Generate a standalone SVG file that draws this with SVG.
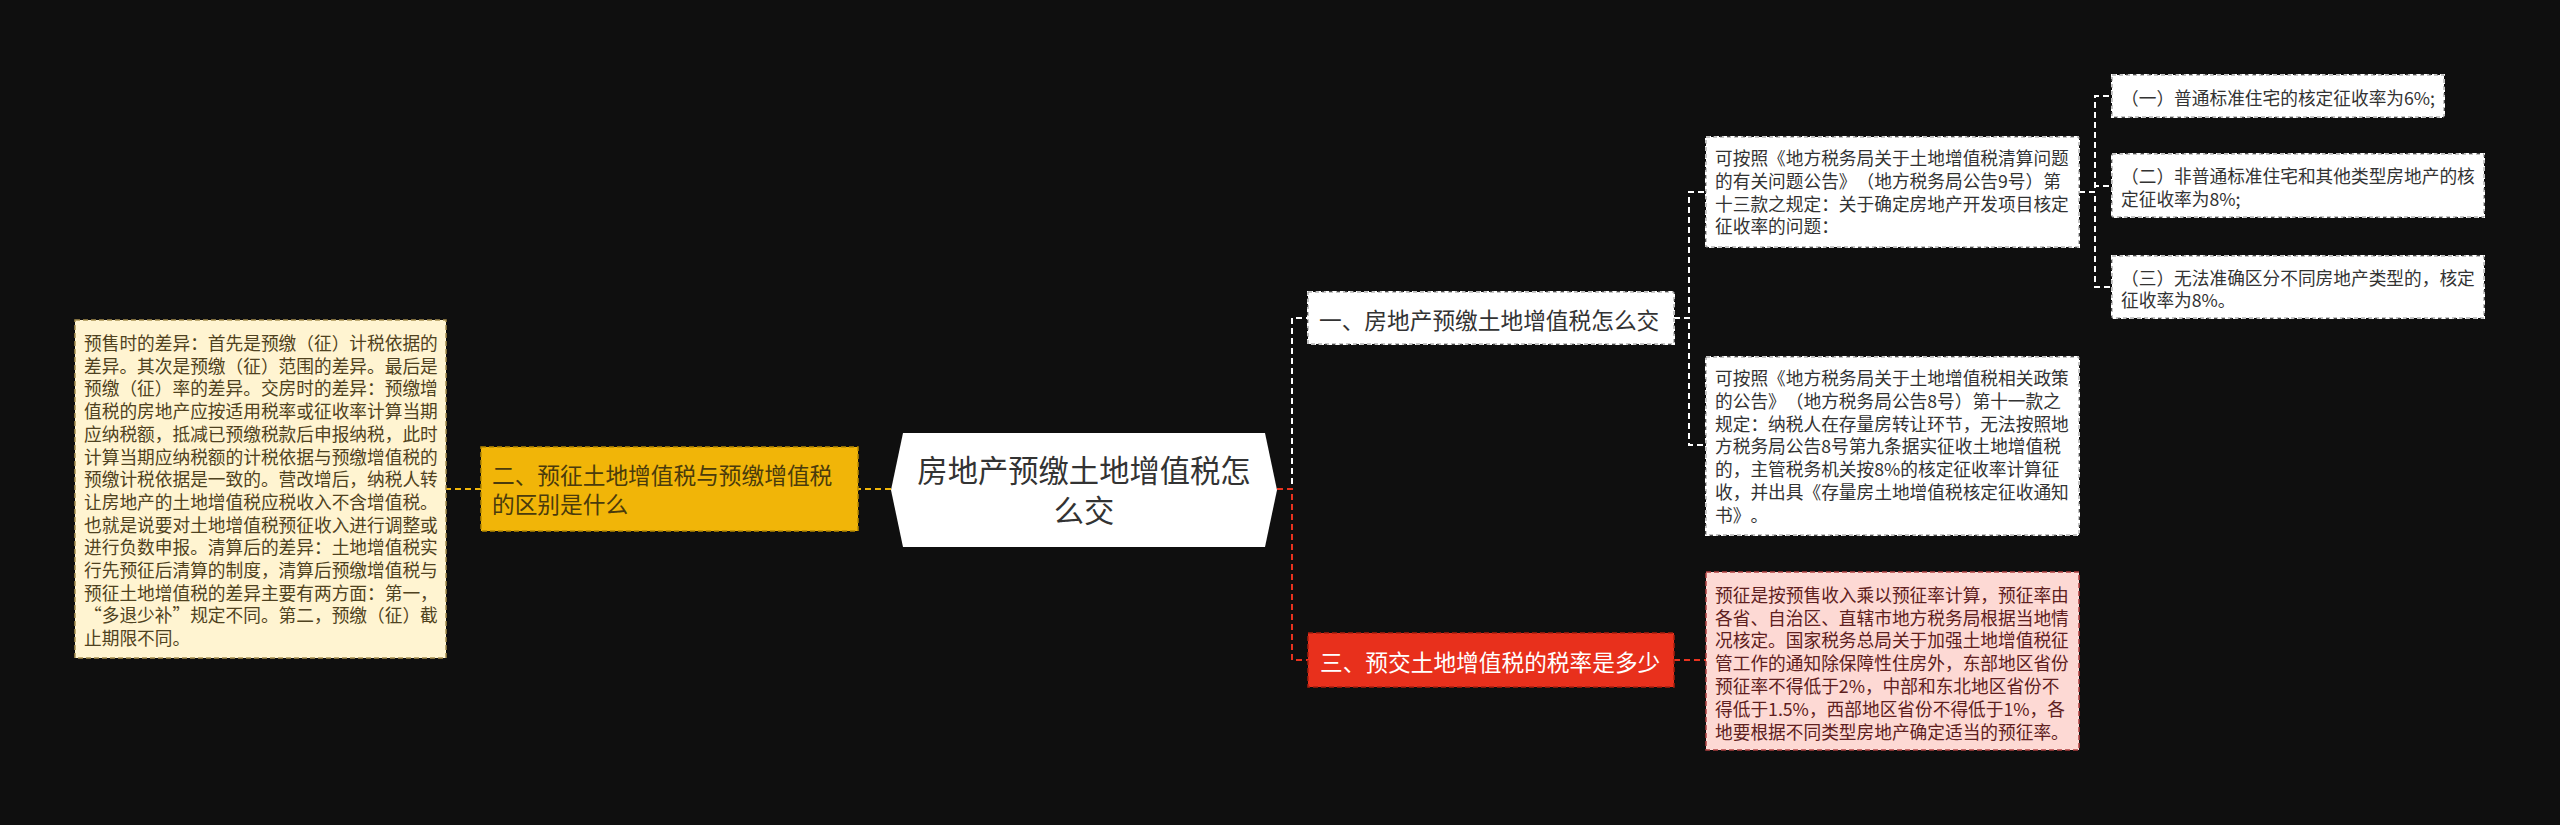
<svg xmlns="http://www.w3.org/2000/svg" width="2560" height="825" viewBox="0 0 2560 825">
<style>
text{font-family:"Noto Sans CJK SC","Noto Sans",sans-serif;text-spacing-trim:space-all;}
.s{font-size:17.7px;}
.m{font-size:22.7px;}
.c{font-size:30.3px;fill:#333333;}
.dk{fill:#333333;}
.wbox{fill:#ffffff;stroke:#ffffff;stroke-width:2;stroke-dasharray:5 3;}
.wedge{fill:none;stroke:#8a8a8a;stroke-width:1;stroke-dasharray:4 3;}
.lw{fill:none;stroke:#ffffff;stroke-width:2;stroke-dasharray:6 4;}
.ly{fill:none;stroke:#f0b60b;stroke-width:2;stroke-dasharray:6 4;}
.lr{fill:none;stroke:#e8331f;stroke-width:2;stroke-dasharray:6 4;}
</style>
<rect x="0" y="0" width="2560" height="825" fill="#0f0f0f"/>
<g id="connectors">
<path class="ly" d="M891,489 H858"/>
<path class="ly" d="M481,489 H446"/>
<path class="lw" d="M1277,489 H1292 V318 H1308"/>
<path class="lr" d="M1277,489 H1292 V660 H1308"/>
<path class="lw" d="M1674,318 H1689 V192 H1706"/>
<path class="lw" d="M1674,318 H1689 V445 H1706"/>
<path class="lr" d="M1674,660 H1706"/>
<path class="lw" d="M2079,192 H2095 V96 H2112"/>
<path class="lw" d="M2079,192 H2095 V186 H2112"/>
<path class="lw" d="M2079,192 H2095 V287 H2112"/>
</g>
<g id="root">
<polygon points="891,490 903,433 1265,433 1277,490 1265,547 903,547" fill="#ffffff"/>
<text class="c" text-anchor="middle"><tspan x="1084" y="481.7">房地产预缴土地增值税怎</tspan><tspan x="1084" y="521.7">么交</tspan></text>
</g>
<g id="n2">
<rect x="481" y="447" width="377" height="84" fill="#f1b508" stroke="#b88a00" stroke-width="1.5" stroke-dasharray="5 3"/>
<text class="m" fill="#4a3b0c"><tspan x="492" y="483.6">二、预征土地增值税与预缴增值税</tspan><tspan x="492" y="512.6">的区别是什么</tspan></text>
</g>
<g id="n2a">
<rect x="75" y="320" width="371" height="338" fill="#fff4d1" stroke="#a89050" stroke-width="1.5" stroke-dasharray="5 3"/>
<text class="s" fill="#4f4220">
<tspan x="84" y="350">预售时的差异：首先是预缴（征）计税依据的</tspan>
<tspan x="84" y="372.7">差异。其次是预缴（征）范围的差异。最后是</tspan>
<tspan x="84" y="395.4">预缴（征）率的差异。交房时的差异：预缴增</tspan>
<tspan x="84" y="418.1">值税的房地产应按适用税率或征收率计算当期</tspan>
<tspan x="84" y="440.8">应纳税额，抵减已预缴税款后申报纳税，此时</tspan>
<tspan x="84" y="463.5">计算当期应纳税额的计税依据与预缴增值税的</tspan>
<tspan x="84" y="486.2">预缴计税依据是一致的。营改增后，纳税人转</tspan>
<tspan x="84" y="508.9">让房地产的土地增值税应税收入不含增值税。</tspan>
<tspan x="84" y="531.6">也就是说要对土地增值税预征收入进行调整或</tspan>
<tspan x="84" y="554.3">进行负数申报。清算后的差异：土地增值税实</tspan>
<tspan x="84" y="577">行先预征后清算的制度，清算后预缴增值税与</tspan>
<tspan x="84" y="599.7">预征土地增值税的差异主要有两方面：第一，</tspan>
<tspan x="84" y="622.4">“多退少补”规定不同。第二，预缴（征）截</tspan>
<tspan x="84" y="645.1">止期限不同。</tspan>
</text>
</g>
<g id="n1">
<rect class="wbox" x="1308" y="292" width="366" height="52"/>
<rect class="wedge" x="1308" y="292" width="366" height="52"/>
<text class="m dk" x="1319" y="328.7">一、房地产预缴土地增值税怎么交</text>
</g>
<g id="n3">
<rect x="1308" y="633" width="366" height="54" fill="#e8301c" stroke="#a81e0e" stroke-width="1.5" stroke-dasharray="5 3"/>
<text class="m" fill="#ffffff" x="1320" y="670.7">三、预交土地增值税的税率是多少</text>
</g>
<g id="n1a">
<rect class="wbox" x="1706" y="137" width="373" height="110"/>
<rect class="wedge" x="1706" y="137" width="373" height="110"/>
<text class="s dk">
<tspan x="1715" y="165">可按照《地方税务局关于土地增值税清算问题</tspan>
<tspan x="1715" y="187.8">的有关问题公告》（地方税务局公告9号）第</tspan>
<tspan x="1715" y="210.6">十三款之规定：关于确定房地产开发项目核定</tspan>
<tspan x="1715" y="233.4">征收率的问题：</tspan>
</text>
</g>
<g id="n1b">
<rect class="wbox" x="1706" y="357" width="373" height="178"/>
<rect class="wedge" x="1706" y="357" width="373" height="178"/>
<text class="s dk">
<tspan x="1715" y="385">可按照《地方税务局关于土地增值税相关政策</tspan>
<tspan x="1715" y="407.8">的公告》（地方税务局公告8号）第十一款之</tspan>
<tspan x="1715" y="430.6">规定：纳税人在存量房转让环节，无法按照地</tspan>
<tspan x="1715" y="453.4">方税务局公告8号第九条据实征收土地增值税</tspan>
<tspan x="1715" y="476.2">的，主管税务机关按8%的核定征收率计算征</tspan>
<tspan x="1715" y="499">收，并出具《存量房土地增值税核定征收通知</tspan>
<tspan x="1715" y="521.8">书》。</tspan>
</text>
</g>
<g id="n1a1">
<rect class="wbox" x="2112" y="75" width="332" height="42"/>
<rect class="wedge" x="2112" y="75" width="332" height="42"/>
<text class="s dk" x="2121" y="105">（一）普通标准住宅的核定征收率为6%;</text>
</g>
<g id="n1a2">
<rect class="wbox" x="2112" y="154" width="372" height="63"/>
<rect class="wedge" x="2112" y="154" width="372" height="63"/>
<text class="s dk"><tspan x="2121" y="183.4">（二）非普通标准住宅和其他类型房地产的核</tspan><tspan x="2121" y="206.4">定征收率为8%;</tspan></text>
</g>
<g id="n1a3">
<rect class="wbox" x="2112" y="256" width="372" height="62"/>
<rect class="wedge" x="2112" y="256" width="372" height="62"/>
<text class="s dk"><tspan x="2121" y="285">（三）无法准确区分不同房地产类型的，核定</tspan><tspan x="2121" y="306.8">征收率为8%。</tspan></text>
</g>
<g id="n3a">
<rect x="1706" y="572" width="373" height="178" fill="#fdd9d4" stroke="#b04040" stroke-width="1.5" stroke-dasharray="5 3"/>
<text class="s" fill="#5e2020">
<tspan x="1715" y="601.7">预征是按预售收入乘以预征率计算，预征率由</tspan>
<tspan x="1715" y="624.5">各省、自治区、直辖市地方税务局根据当地情</tspan>
<tspan x="1715" y="647.3">况核定。国家税务总局关于加强土地增值税征</tspan>
<tspan x="1715" y="670.1">管工作的通知除保障性住房外，东部地区省份</tspan>
<tspan x="1715" y="692.9">预征率不得低于2%，中部和东北地区省份不</tspan>
<tspan x="1715" y="715.7">得低于1.5%，西部地区省份不得低于1%，各</tspan>
<tspan x="1715" y="738.5">地要根据不同类型房地产确定适当的预征率。</tspan>
</text>
</g>
</svg>
